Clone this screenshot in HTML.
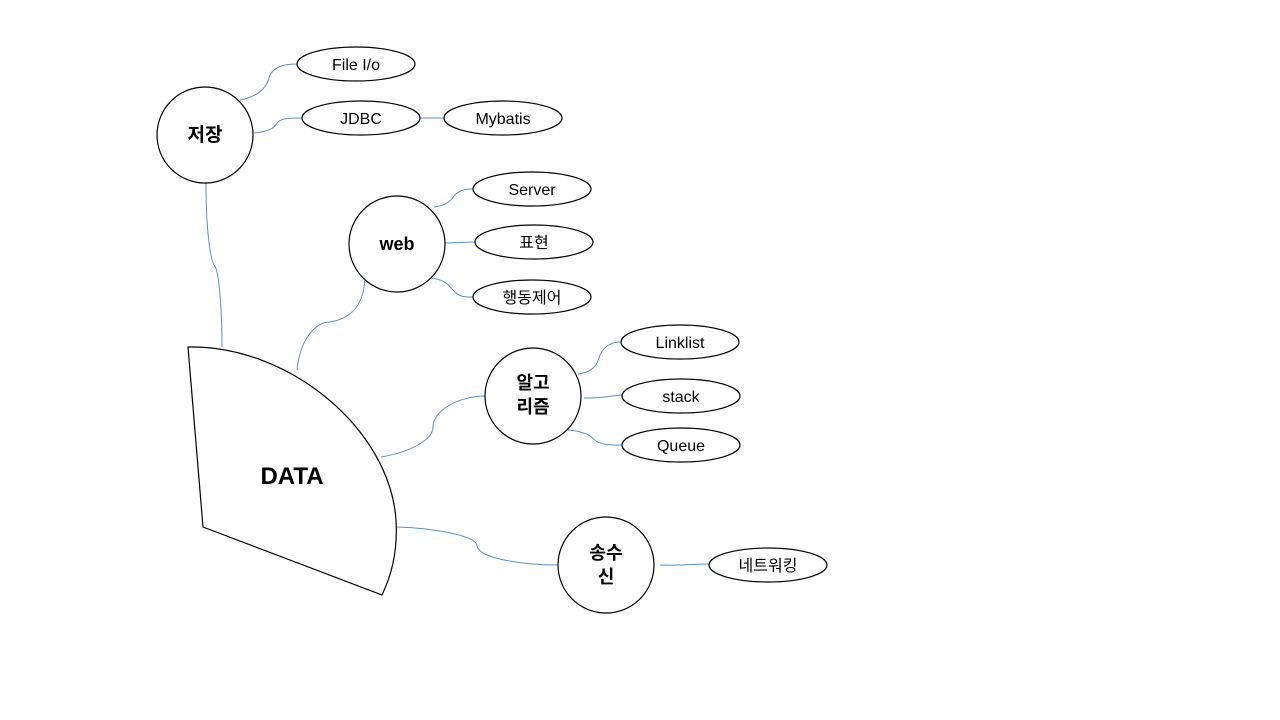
<!DOCTYPE html>
<html><head><meta charset="utf-8"><style>
html,body{margin:0;padding:0;background:#fff;width:1280px;height:720px;overflow:hidden}
text{font-family:"Liberation Sans","Noto Sans CJK KR",sans-serif;fill:#000}
</style></head><body>
<svg width="1280" height="720" viewBox="0 0 1280 720" xmlns="http://www.w3.org/2000/svg">
<g fill="none" stroke="#5b8fc7" stroke-width="1">
<path d="M206,183 C206,240 212,262 214,265 C220,270 222,320 222,347"/>
<path d="M297,370 C300,340 315,322 330,322 C355,318 365,300 365,275"/>
<path d="M381,457 C410,452 433,440 433,427 C433,410 460,396 485,396"/>
<path d="M397,527 C430,528 477,535 477,546 C480,560 530,565 557,565"/>
<path d="M240,100 C265,95 268,82 270,75 C275,66 285,64 297,64"/>
<path d="M254,133 C275,131 275,125 278,122 C282,118 290,118 302,118"/>
<path d="M420,118 L444,118"/>
<path d="M434,207 C450,205 452,198 455,195 C460,190 465,189 473,189"/>
<path d="M445,243 L475,242"/>
<path d="M431,278 C448,280 450,288 455,292 C460,297 465,297 473,297"/>
<path d="M578,374 C595,372 598,362 600,355 C605,345 612,342 621,342"/>
<path d="M584,398 C605,398 608,396 622,395"/>
<path d="M568,430 C590,432 592,438 596,441 C602,445 610,445 622,445"/>
<path d="M660,565 C680,566 690,564 709,564"/>
</g>
<path d="M188,347 C290,345 390,430 396,520 C398,555 390,578 382,595 L203,527 Z" fill="#fff" stroke="#000" stroke-width="1.2"/>
<g fill="#fff" stroke="#000" stroke-width="1.2">
<circle cx="205" cy="135" r="48"/>
<circle cx="397" cy="244" r="48"/>
<circle cx="533" cy="396" r="48"/>
<circle cx="606" cy="565" r="48"/>
<ellipse cx="356" cy="64" rx="59" ry="17"/>
<ellipse cx="361" cy="118" rx="59" ry="17"/>
<ellipse cx="503" cy="118" rx="59" ry="17"/>
<ellipse cx="532" cy="189" rx="59" ry="17"/>
<ellipse cx="534" cy="242" rx="59" ry="17"/>
<ellipse cx="532" cy="297" rx="59" ry="17"/>
<ellipse cx="680" cy="342" rx="59" ry="17"/>
<ellipse cx="681" cy="396" rx="59" ry="17"/>
<ellipse cx="681" cy="445" rx="59" ry="17"/>
<ellipse cx="768" cy="565" rx="59" ry="17"/>
</g>
<g text-anchor="middle" font-weight="bold">
<text x="292" y="484" font-size="24">DATA</text>
<text x="205" y="141" font-size="19">저장</text>
<text x="397" y="250" font-size="18">web</text>
<text x="533" y="389" font-size="18">알고</text>
<text x="533" y="413" font-size="18">리즘</text>
<text x="606" y="559" font-size="18">송수</text>
<text x="606" y="583" font-size="18">신</text>
</g>
<g text-anchor="middle" font-size="16">
<text x="356" y="70">File I/o</text>
<text x="361" y="124">JDBC</text>
<text x="503" y="124">Mybatis</text>
<text x="532" y="195">Server</text>
<text x="534" y="248">표현</text>
<text x="532" y="303">행동제어</text>
<text x="680" y="348">Linklist</text>
<text x="681" y="402">stack</text>
<text x="681" y="451">Queue</text>
<text x="768" y="571">네트워킹</text>
</g>
</svg>
</body></html>
